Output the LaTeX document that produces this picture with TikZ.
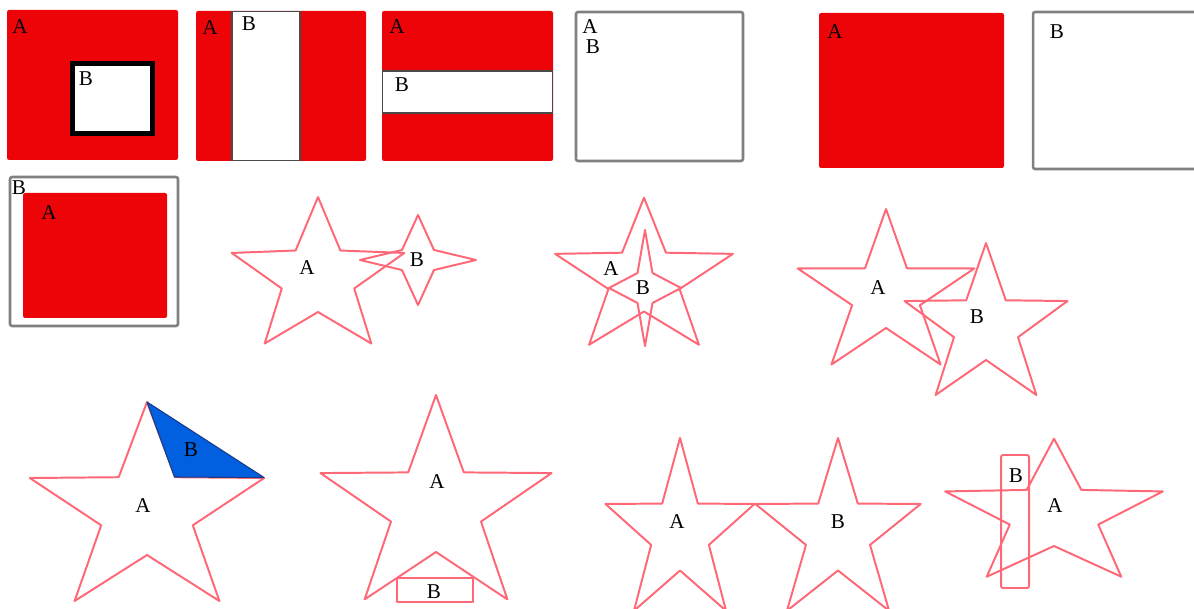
\documentclass[tikz,border=0pt]{standalone}
\usepackage{fontspec}
\setmainfont{Liberation Serif}
\definecolor{boxred}{HTML}{EC0408}
\definecolor{framegrey}{HTML}{808080}
\definecolor{stripgrey}{HTML}{4A4A4A}
\definecolor{starpink}{HTML}{FF6876}
\definecolor{fillblue}{HTML}{0060E0}
\definecolor{edgeblue}{HTML}{1C3C8C}
\tikzset{
  redfill/.style   = {fill=boxred, rounded corners=1.5},
  greyframe/.style = {draw=framegrey, line width=1.8pt, rounded corners=1.5},
  whitestrip/.style= {draw=stripgrey, line width=1.2pt, fill=white},
  starline/.style  = {draw=starpink, line width=1.4pt, line join=round},
  lbl/.style       = {font=\fontsize{15}{17}\selectfont, inner sep=0pt},
}
\newcommand{\fivestar}[5]{\draw[starline, shift={(#1,#2)}, xscale=#5, yscale=-1]
  (90:#3) \foreach \a in {126,198,270,342,414} {-- (\a:#4) -- ({\a+36}:#3)} -- cycle;}
\newcommand{\fourstar}[6]{\draw[starline, shift={(#1,#2)}]
  (0,-#4) -- (#5,-#6) -- (#3,0) -- (#5,#6) -- (0,#4) -- (-#5,#6) -- (-#3,0) -- (-#5,-#6) -- cycle;}

\begin{document}
\begin{tikzpicture}[x=0.025cm, y=-0.025cm]
  \useasboundingbox (0,0) rectangle (1194,609);

  % top row of boxes
  \fill[redfill] (7,10) rectangle (178,160);
  \draw[line width=3.6pt, fill=white] (72.5,63.5) rectangle (152.5,133.5);
  \node[lbl] (a1) at (20,27) {A};
  \node[lbl] (b1) at (86,79) {B};

  \fill[redfill] (196,11) rectangle (366,161);
  \draw[whitestrip] (232,11.5) rectangle (300,160.5);
  \node[lbl] (a2) at (210,28) {A};
  \node[lbl] (b2) at (249,24) {B};

  \fill[redfill] (382,11) rectangle (553,161);
  \draw[whitestrip] (382.5,71) rectangle (552.5,113);
  \node[lbl] (a3) at (397,27) {A};
  \node[lbl] (b3) at (402,85) {B};

  \draw[greyframe] (576,12) rectangle (743,161);
  \node[lbl] (a4) at (590,27) {A};
  \node[lbl] (b4) at (593,47) {B};

  \fill[redfill] (819,13) rectangle (1004,168);
  \node[lbl] (a5) at (835,32) {A};

  \draw[greyframe] (1033,12) rectangle (1200,169);
  \node[lbl] (b6) at (1057,32) {B};

  \draw[greyframe] (10,177) rectangle (178,326);
  \fill[redfill] (23,193) rectangle (167,318);
  \node[lbl] (b7) at (19,188) {B};
  \node[lbl] (a7) at (49,213) {A};

  % stars
  \fivestar{318}{278}{81}{34}{1.12}
  \fourstar{418}{260}{58}{45}{16}{10}
  \node[lbl] (a8) at (307,268) {A};
  \node[lbl] (b8) at (417,260) {B};

  \fivestar{644}{279}{81.3}{32.5}{1.15}
  \fourstar{645}{288}{36}{58}{7.5}{15}
  \node[lbl] (a9) at (611,269) {A};
  \node[lbl] (b9) at (643,288) {B};

  \fivestar{886}{295}{86}{33}{1.08}
  \fivestar{986}{327}{84}{33}{1.02}
  \node[lbl] (a10) at (878,288) {A};
  \node[lbl] (b10) at (977,317) {B};

  \fivestar{147}{512}{110}{43}{1.12}
  \draw[fill=fillblue, draw=edgeblue, line width=0.8pt, line join=round] (147,402) -- (174.5,477) -- (264,477.5) -- cycle;
  \node[lbl] (a11) at (143,506) {A};
  \node[lbl] (b11) at (191,450) {B};

  \fivestar{436}{508}{113}{44}{1.075}
  \draw[starline] (397,578) rectangle (473,602);
  \node[lbl] (a12) at (437,482) {A};
  \node[lbl] (b12) at (434,592) {B};

  \fivestar{680}{533.5}{95.5}{37}{0.82}
  \fivestar{838}{533.5}{95.5}{37}{0.91}
  \node[lbl] (a13) at (677,522) {A};
  \node[lbl] (b13) at (838,522) {B};

  \fivestar{1054}{515}{76.3}{31}{1.5}
  \draw[starline, rounded corners=1.5] (1001,455) rectangle (1029,588);
  \node[lbl] (a14) at (1055,506) {A};
  \node[lbl] (b14) at (1016,476) {B};
\end{tikzpicture}
\end{document}
